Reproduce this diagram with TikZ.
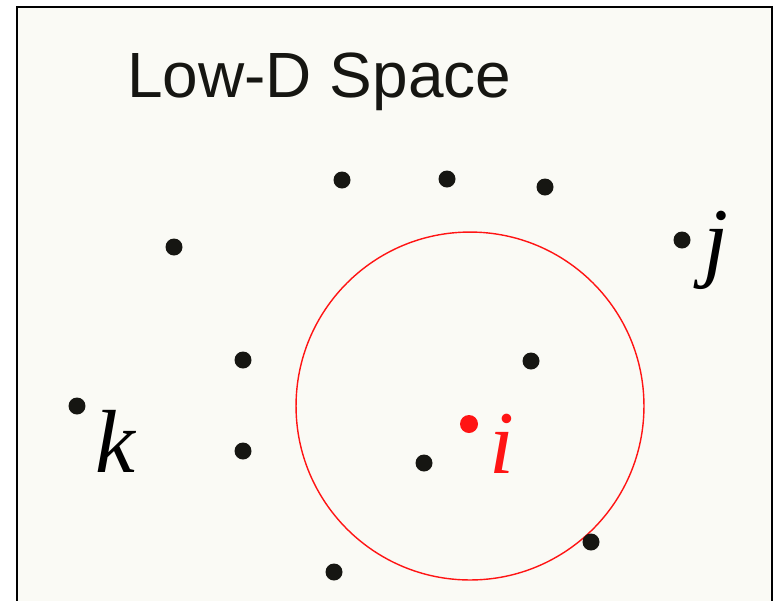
\documentclass[tikz,border=0pt]{standalone}
\usepackage{fontspec}
\setmainfont{Liberation Serif}
\newfontfamily\titlefont{Liberation Sans}
\usetikzlibrary{positioning}
\definecolor{spacebg}{RGB}{250, 250, 245}
\definecolor{dotblack}{RGB}{22, 22, 18}
\definecolor{nbred}{RGB}{255, 20, 20}
\tikzset{
  pt/.style={circle, fill=dotblack, inner sep=0pt, minimum size=0.34cm},
  redpt/.style={circle, fill=nbred, inner sep=0pt, minimum size=0.36cm},
  ptlabel/.style={inner sep=0pt, font=\fontsize{51}{51}\selectfont\itshape},
}
\begin{document}
\begin{tikzpicture}[x=0.02cm, y=-0.02cm]
        \useasboundingbox (0,0) rectangle (777,600);
        \clip (0,0) rectangle (777,600);
        % Space box
        \draw[line width=0.04cm, fill=spacebg] (17,7) rectangle (772,640);
        \node[font=\titlefont\fontsize{36.4}{36}\selectfont, color=dotblack, anchor=base west,
              inner sep=0pt] (title) at (127,97) {Low-D Space};

        % Neighbourhood of i
        \node[circle, draw=nbred, line width=0.8pt, minimum size=6.96cm] (nbhd) at (470,406) {};

        % Points
        \node[pt] (p1) at (342,180) {};
        \node[pt] (p2) at (447,179) {};
        \node[pt] (p3) at (545,187) {};
        \node[pt] (p4) at (174,247) {};
        \node[pt] (pj) at (682,240) {};
        \node[pt] (p5) at (243,360) {};
        \node[pt] (p6) at (531,361) {};
        \node[pt] (pk) at (77,406) {};
        \node[pt] (p7) at (243,451) {};
        \node[pt] (p8) at (424,463) {};
        \node[pt] (p9) at (591,542) {};
        \node[pt] (p10) at (334,572) {};
        \node[redpt] (pi) at (469,424) {};

        % Labels
        \node[ptlabel, anchor=base west] (lj) at (703,270) {j};
        \node[ptlabel, anchor=base west] (lk) at (95,472) {k};
        \node[ptlabel, anchor=base west, color=nbred] (li) at (489,473) {i};
      \end{tikzpicture}
\end{document}
